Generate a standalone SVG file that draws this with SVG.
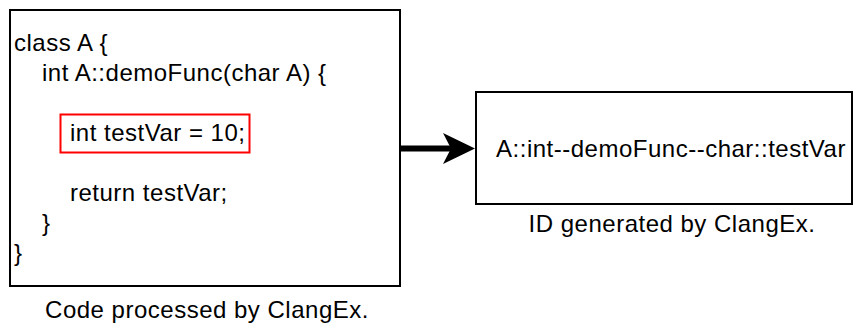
<svg xmlns="http://www.w3.org/2000/svg" width="854" height="324" viewBox="0 0 854 324">
<style>
text{font-family:"Liberation Sans",Arial,sans-serif;font-size:24px;letter-spacing:0.5px;fill:#000}
.box{fill:#fff;stroke:#000;stroke-width:2}
</style>
<rect width="854" height="324" fill="#fff"/>
<g id="code">
<rect class="box" x="10" y="10" width="390" height="276"/>
<rect x="60.5" y="114.5" width="189" height="38" fill="none" stroke="#f00" stroke-width="2"/>
<text x="14" y="51">class A {</text>
<text x="42" y="81">int A::demoFunc(char A) {</text>
<text x="70" y="141">int testVar = 10;</text>
<text x="70" y="201">return testVar;</text>
<text x="42" y="231">}</text>
<text x="14" y="261">}</text>
<text x="207" y="318" text-anchor="middle">Code processed by ClangEx.</text>
</g>
<g id="id">
<rect class="box" x="476" y="92" width="376" height="112"/>
<text x="671" y="157" text-anchor="middle">A::int--demoFunc--char::testVar</text>
<text x="672" y="232" text-anchor="middle">ID generated by ClangEx.</text>
</g>
<g id="connectors">
<line x1="401" y1="148.5" x2="452" y2="148.5" stroke="#000" stroke-width="6"/>
<path d="M475,148.5 L443,133 L451,148.5 L443,164 Z" fill="#000"/>
</g>
</svg>
